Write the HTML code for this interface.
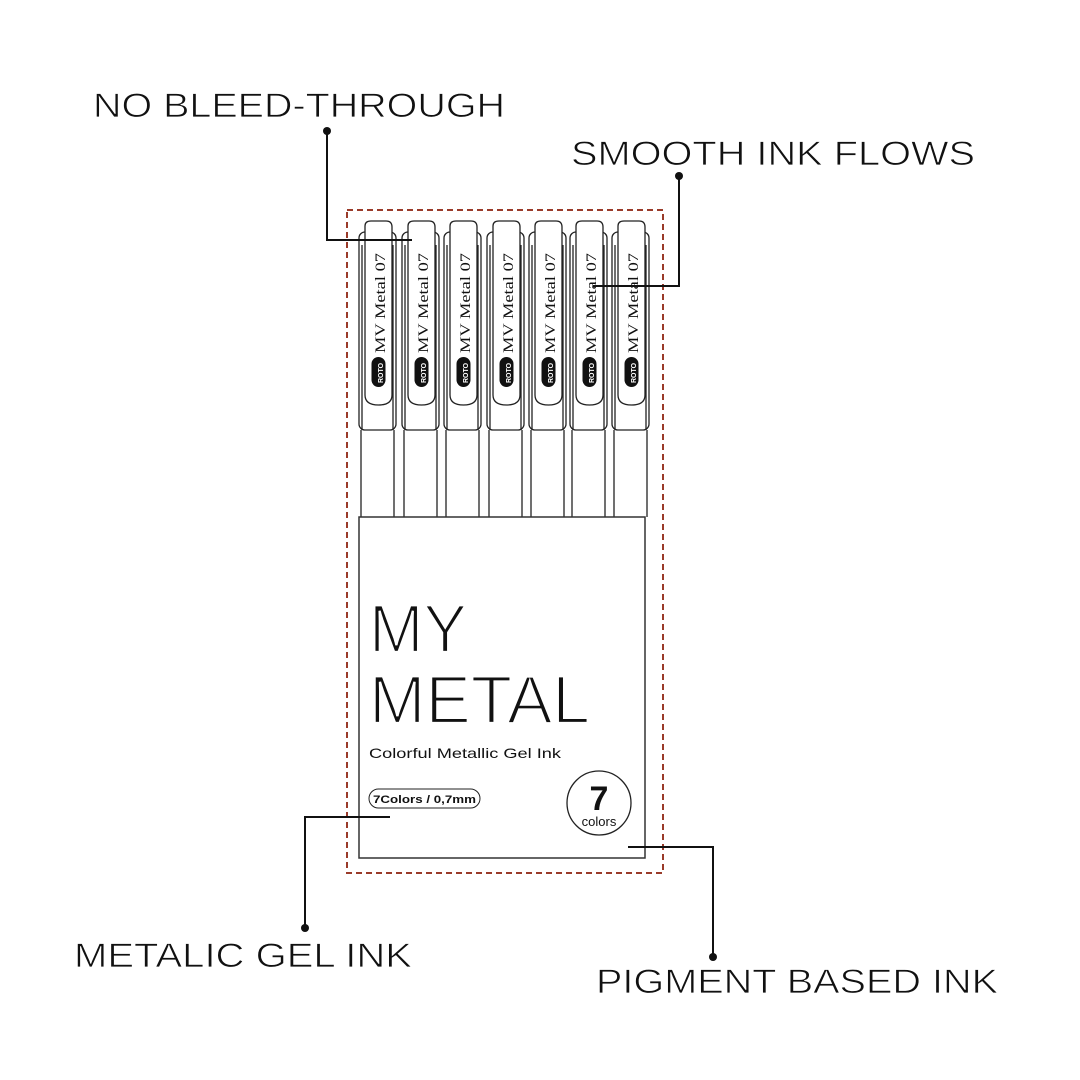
<!DOCTYPE html>
<html><head><meta charset="utf-8"><style>
html,body{margin:0;padding:0;background:#fff;}
svg{display:block}
</style></head><body>
<svg width="1080" height="1080" viewBox="0 0 1080 1080" xmlns="http://www.w3.org/2000/svg">
<rect width="1080" height="1080" fill="#fff"/>
<g font-family="Liberation Sans, sans-serif" fill="#111" font-size="34" stroke="#fff" stroke-width="0.8">
<text x="93" y="117" textLength="412" lengthAdjust="spacingAndGlyphs">NO BLEED-THROUGH</text>
<text x="571" y="165" textLength="404" lengthAdjust="spacingAndGlyphs">SMOOTH INK FLOWS</text>
<text x="74" y="967" textLength="338" lengthAdjust="spacingAndGlyphs">METALIC GEL INK</text>
<text x="596" y="993" textLength="402" lengthAdjust="spacingAndGlyphs">PIGMENT BASED INK</text>
</g>
<rect x="347" y="210" width="316" height="663" fill="none" stroke="#9a3b2a" stroke-width="2" stroke-dasharray="6,4"/>
<g id="pens" fill="none" stroke="#222" stroke-width="1.3">
<g id="p">
<rect x="359" y="232" width="37" height="198" rx="6"/>
<path d="M365 238 L365 226 Q365 221 371 221 L386 221 Q392 221 392 227 L392 395 Q392 405 378.5 405 Q365 405 365 395 Z" fill="#fff"/>
<line x1="362" y1="245" x2="362" y2="430"/>
<line x1="393" y1="245" x2="393" y2="430"/>
<line x1="361" y1="430" x2="361" y2="517"/>
<line x1="394" y1="430" x2="394" y2="517"/>
<rect x="371.5" y="357" width="14" height="30" rx="7" fill="#111" stroke="none"/>
<text transform="translate(383,383) rotate(-90)" font-family="Liberation Sans, sans-serif" font-size="7" font-weight="bold" fill="#fff" stroke="none">ROTO</text>
<text transform="translate(385,353) rotate(-90)" font-family="Liberation Serif, serif" font-size="15" fill="#111" stroke="none" textLength="100" lengthAdjust="spacingAndGlyphs">MV Metal 07</text>
</g>
<use href="#p" x="43"/>
<use href="#p" x="85"/>
<use href="#p" x="128"/>
<use href="#p" x="170"/>
<use href="#p" x="211"/>
<use href="#p" x="253"/>
</g>
<rect x="359" y="517" width="286" height="341" fill="#fff" stroke="#333" stroke-width="1.5"/>
<g font-family="Liberation Sans, sans-serif" fill="#111">
<g stroke="#fff" stroke-width="2.3">
<text x="369" y="652" font-size="68" textLength="98" lengthAdjust="spacingAndGlyphs">MY</text>
<text x="369" y="723" font-size="68" textLength="221" lengthAdjust="spacingAndGlyphs">METAL</text>
</g>
<text x="369" y="758" font-size="14" textLength="192" lengthAdjust="spacingAndGlyphs">Colorful Metallic Gel Ink</text>
<rect x="369" y="789" width="111" height="19" rx="9.5" fill="none" stroke="#222" stroke-width="1"/>
<text x="373" y="803" font-size="11" font-weight="bold" textLength="103" lengthAdjust="spacingAndGlyphs">7Colors / 0,7mm</text>
<circle cx="599" cy="803" r="32" fill="none" stroke="#222" stroke-width="1.3"/>
<text x="599" y="810" font-size="34" font-weight="bold" text-anchor="middle">7</text>
<text x="599" y="826" font-size="13" text-anchor="middle">colors</text>
</g>
<g stroke="#111" stroke-width="2" fill="none">
<polyline points="327,131 327,240 412,240"/>
<polyline points="679,176 679,286 593,286"/>
<polyline points="305,928 305,817 390,817"/>
<polyline points="713,957 713,847 628,847"/>
</g>
<g fill="#111">
<circle cx="327" cy="131" r="4"/>
<circle cx="679" cy="176" r="4"/>
<circle cx="305" cy="928" r="4"/>
<circle cx="713" cy="957" r="4"/>
</g>
</svg>
</body></html>
